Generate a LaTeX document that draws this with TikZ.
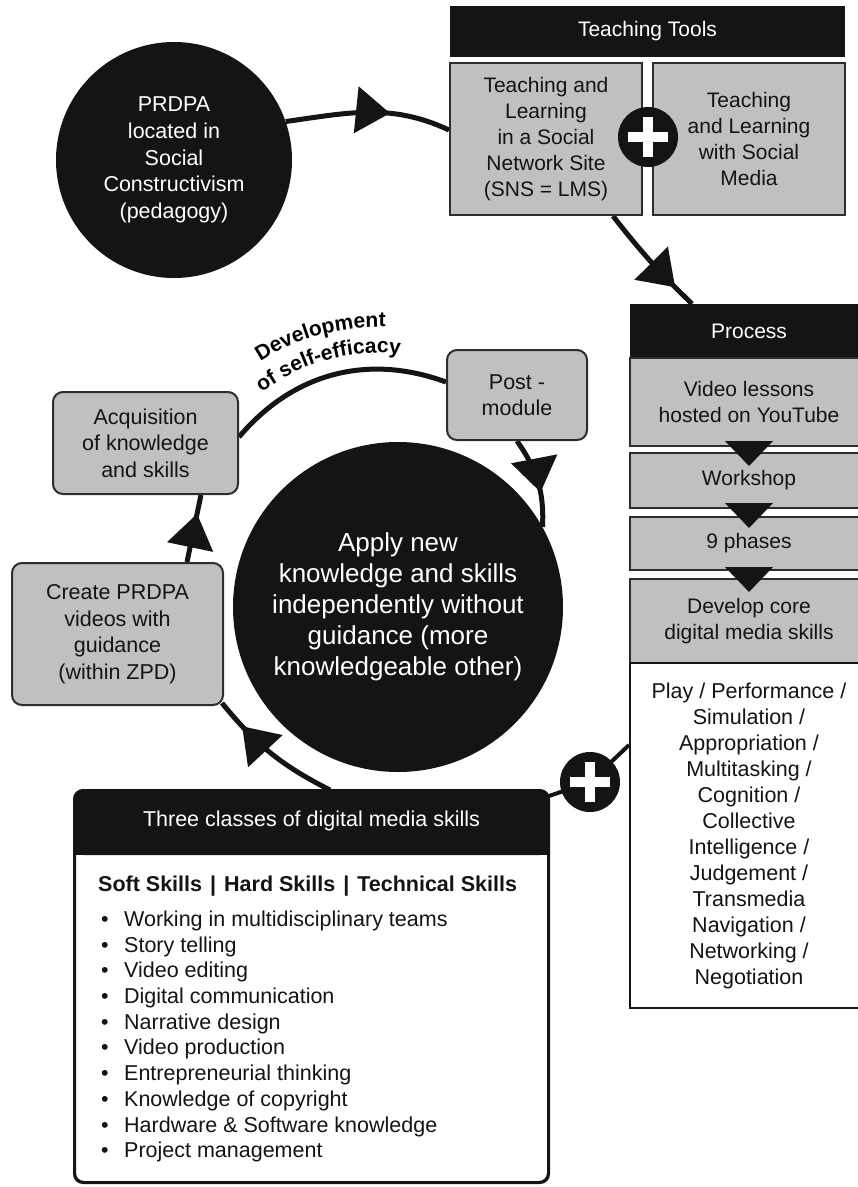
\documentclass[tikz,border=0pt]{standalone}
\usepackage{fontspec}
\setmainfont{Liberation Sans}
\usetikzlibrary{arrows.meta,decorations.markings,decorations.text,calc,backgrounds}
\definecolor{boxgray}{RGB}{192,192,192}
\definecolor{ink}{RGB}{20,20,20}
\definecolor{edge}{RGB}{45,45,45}
\begin{document}
\begin{tikzpicture}[x=1pt,y=1pt,
  blackcirc/.style={circle, fill=ink, text=white, align=center, inner sep=0pt},
  blackbar/.style={rectangle, fill=ink, text=white, inner sep=0pt, font=\fontsize{21}{25}\selectfont},
  graybox/.style={rectangle, fill=boxgray, draw=edge, line width=2pt, align=center, inner sep=0pt, text=ink, font=\fontsize{21}{26}\selectfont},
  rgraybox/.style={graybox, rounded corners=10pt, font=\fontsize{21.5}{26.5}\selectfont},
  listbox/.style={rectangle, fill=white, draw=ink, line width=2pt, align=center, inner sep=0pt, text=ink, font=\fontsize{21.5}{26}\selectfont},
  conn/.style={line width=5pt, draw=ink},
  midtip/.style={postaction={decorate}, decoration={markings, mark=at position #1 with {\arrow[ink]{Triangle[length=34pt,width=46pt]}}}},
  plusnode/.style={circle, fill=ink, minimum size=60pt, inner sep=0pt,
    path picture={
      \fill[white] ([xshift=-20pt,yshift=-5pt]path picture bounding box.center) rectangle ([xshift=20pt,yshift=5pt]path picture bounding box.center);
      \fill[white] ([xshift=-5pt,yshift=-20pt]path picture bounding box.center) rectangle ([xshift=5pt,yshift=20pt]path picture bounding box.center);}}
]
\useasboundingbox (0,0) rectangle (858,-1187);

% top left circle
\node[blackcirc, minimum size=236pt, font=\fontsize{21.5}{26.7}\selectfont] (prdpa) at (174,-160)
  {PRDPA\\located in\\Social\\Constructivism\\(pedagogy)};

% teaching tools
\node[blackbar, minimum width=395pt, minimum height=51pt] (tools) at (647.5,-31.5) {Teaching Tools};
\node[graybox, minimum width=192pt, minimum height=152pt] (sns) at (546,-139)
  {Teaching and\\Learning\\in a Social\\Network Site\\(SNS = LMS)};
\node[graybox, minimum width=192pt, minimum height=152pt] (sm) at (749,-139)
  {Teaching\\and Learning\\with Social\\Media};
\node[plusnode] (plus1) at (648,-137) {};

% process column
\node[blackbar, minimum width=238pt, minimum height=54pt] (proc) at (749,-331) {Process};
\node[graybox, minimum width=238pt, minimum height=88pt] (video) at (749,-402) {Video lessons\\hosted on YouTube};
\node[graybox, minimum width=238pt, minimum height=55pt] (work) at (749,-480.5) {Workshop};
\node[graybox, minimum width=238pt, minimum height=53pt] (nine) at (749,-543.5) {9 phases};
\node[graybox, minimum width=238pt, minimum height=84pt] (core) at (749,-621) {Develop core\\digital media skills};
\node[listbox, minimum width=238pt, minimum height=345pt] (list) at (749,-835.5)
  {Play / Performance /\\Simulation /\\Appropriation /\\Multitasking /\\Cognition /\\Collective\\Intelligence /\\Judgement /\\Transmedia\\Navigation /\\Networking /\\Negotiation};
\fill[ink] ($(video.south)+(-24,6)$) -- ++(48,0) -- ++(-24,-25) -- cycle;
\fill[ink] ($(work.south)+(-24,6)$) -- ++(48,0) -- ++(-24,-25) -- cycle;
\fill[ink] ($(nine.south)+(-24,4)$) -- ++(48,0) -- ++(-24,-25) -- cycle;

% cycle
\node[rgraybox, minimum width=140pt, minimum height=90pt] (post) at (517,-395) {Post -\\module};
\node[rgraybox, minimum width=185pt, minimum height=102pt] (acq) at (145.5,-443) {Acquisition\\of knowledge\\and skills};
\node[rgraybox, minimum width=211pt, minimum height=142pt] (create) at (117.5,-634) {Create PRDPA\\videos with\\guidance\\(within ZPD)};
\node[blackcirc, minimum size=330pt, font=\fontsize{26}{31}\selectfont] (apply) at (398,-607)
  {Apply new\\knowledge and skills\\independently without\\guidance (more\\knowledgeable other)};

% three classes box
\node[draw=ink, line width=2pt, fill=white, rounded corners=9pt, minimum width=473pt, minimum height=391pt, inner sep=0pt] (skills) at (311.5,-986.5) {};
\fill[ink, rounded corners=9pt] (skills.north west) rectangle ([yshift=-65pt]skills.north east);
\fill[ink] ([yshift=-30pt]skills.north west) rectangle ([yshift=-65pt]skills.north east);
\draw[ink, line width=2pt, rounded corners=9pt] (skills.north west) rectangle (skills.south east);
\node[text=white, inner sep=0pt, font=\fontsize{21.5}{26}\selectfont] (skillshead) at ([yshift=-31pt]skills.north) {Three classes of digital media skills};
\node[anchor=north west, align=left, inner sep=0pt, text=ink, font=\fontsize{21.5}{25.7}\selectfont] (skilllist) at (98,-876)
  {\textbf{Soft Skills\hspace{8pt}|\hspace{8pt}Hard Skills\hspace{8pt}|\hspace{8pt}Technical Skills}\\[9pt]
   \makebox[26pt][l]{\hspace{3pt}•}Working in multidisciplinary teams\\
   \makebox[26pt][l]{\hspace{3pt}•}Story telling\\
   \makebox[26pt][l]{\hspace{3pt}•}Video editing\\
   \makebox[26pt][l]{\hspace{3pt}•}Digital communication\\
   \makebox[26pt][l]{\hspace{3pt}•}Narrative design\\
   \makebox[26pt][l]{\hspace{3pt}•}Video production\\
   \makebox[26pt][l]{\hspace{3pt}•}Entrepreneurial thinking\\
   \makebox[26pt][l]{\hspace{3pt}•}Knowledge of copyright\\
   \makebox[26pt][l]{\hspace{3pt}•}Hardware \& Software knowledge\\
   \makebox[26pt][l]{\hspace{3pt}•}Project management};
\node[plusnode] (plus2) at (590,-782) {};

% curved label
\coordinate (dc) at (378,-543);
\path[decorate, decoration={text along path, text align=center, text={|\fontsize{21}{21}\selectfont\bfseries|Development}}]
  ($(dc)+(145:216)$) arc[start angle=145, end angle=66, radius=216];
\path[decorate, decoration={text along path, text align=center, text={|\fontsize{21}{21}\selectfont\bfseries|of self-efficacy}}]
  ($(dc)+(145:190)$) arc[start angle=145, end angle=66, radius=190];

% connectors
\begin{scope}[on background layer]
\draw[conn, midtip=0.63] (prdpa.19) to[out=8,in=155] ([yshift=9pt]sns.west);
\draw[conn, midtip=0.8] ([xshift=67pt]sns.south) to[bend right=4] ([xshift=-57pt]proc.north);
\draw[conn, midtip=0.62] (post.south) to[out=-55,in=87] (apply.29);
\draw[conn, midtip=0.78] ([xshift=18.5pt]skills.north) to[bend left=12] ([xshift=-2pt,yshift=3pt]create.south east);
\draw[conn, midtip=0.72] ([xshift=69.5pt]create.north) -- ([xshift=55.5pt]acq.south);
\draw[conn] ([yshift=6pt]acq.east) to[bend left=35] ([yshift=13pt]post.west);
\draw[line width=4pt, ink] ([yshift=-6pt]skills.north east) -- (plus2.center) -- ([yshift=90.5pt]list.west);
\end{scope}
\end{tikzpicture}
\end{document}
